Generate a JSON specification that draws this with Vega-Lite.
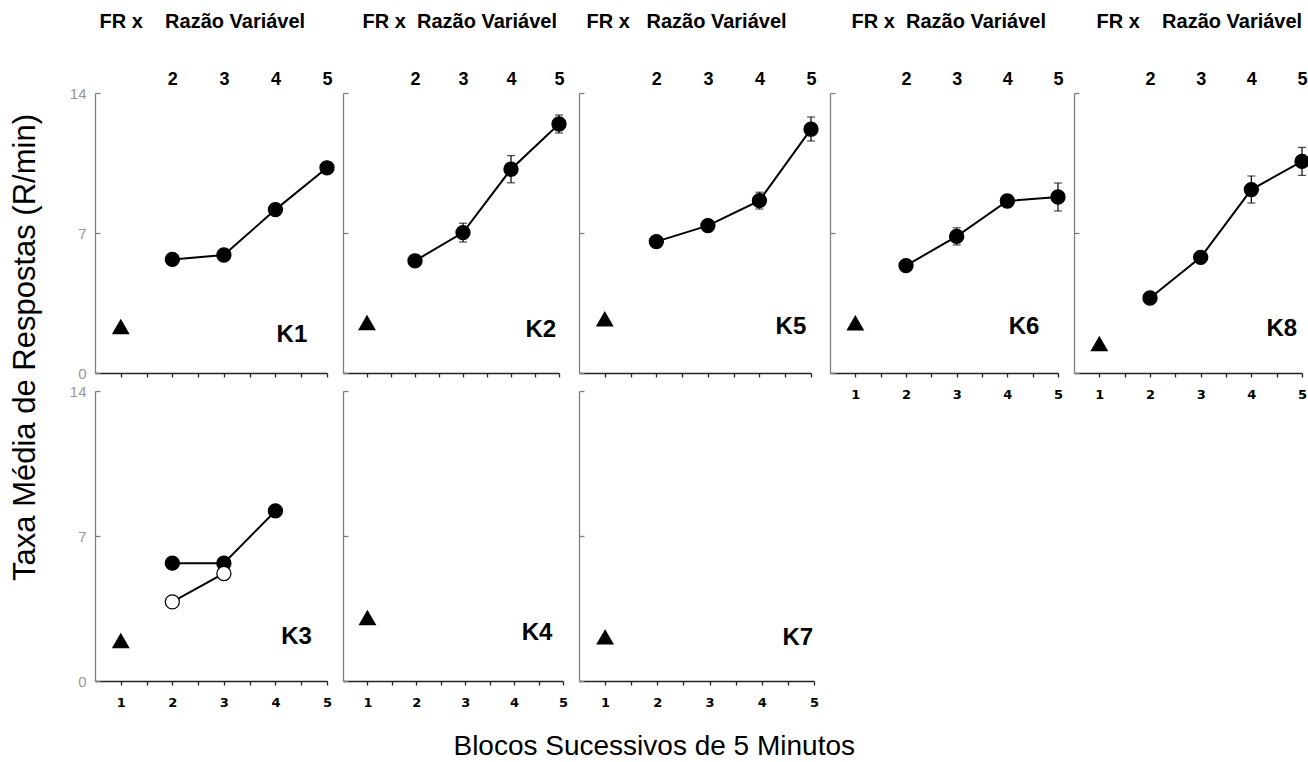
{
  "$schema": "https://vega.github.io/schema/vega-lite/v6.json",
  "padding": {"left": 8, "top": 11, "right": 0, "bottom": 5},
  "background": "white",
  "config": {"view": {"stroke": null}, "axis": {"grid": false}, "font": "Liberation Sans"},
  "datasets": {
    "pts": [
      {"panel": "K1", "series": "FR", "x": 1, "y": 2.33},
      {"panel": "K1", "series": "VR", "x": 2, "y": 5.68},
      {"panel": "K1", "series": "VR", "x": 3, "y": 5.9},
      {"panel": "K1", "series": "VR", "x": 4, "y": 8.17},
      {"panel": "K1", "series": "VR", "x": 5, "y": 10.26},
      {"panel": "K2", "series": "FR", "x": 1, "y": 2.52},
      {"panel": "K2", "series": "VR", "x": 2, "y": 5.61},
      {"panel": "K2", "series": "VR", "x": 3, "y": 7.02, "lo": 6.55, "hi": 7.49},
      {"panel": "K2", "series": "VR", "x": 4, "y": 10.19, "lo": 9.51, "hi": 10.87},
      {"panel": "K2", "series": "VR", "x": 5, "y": 12.45, "lo": 12.0, "hi": 12.9},
      {"panel": "K5", "series": "FR", "x": 1, "y": 2.71},
      {"panel": "K5", "series": "VR", "x": 2, "y": 6.57},
      {"panel": "K5", "series": "VR", "x": 3, "y": 7.37},
      {"panel": "K5", "series": "VR", "x": 4, "y": 8.62, "lo": 8.2, "hi": 9.04},
      {"panel": "K5", "series": "VR", "x": 5, "y": 12.19, "lo": 11.6, "hi": 12.8},
      {"panel": "K6", "series": "FR", "x": 1, "y": 2.51},
      {"panel": "K6", "series": "VR", "x": 2, "y": 5.37},
      {"panel": "K6", "series": "VR", "x": 3, "y": 6.83, "lo": 6.4, "hi": 7.26},
      {"panel": "K6", "series": "VR", "x": 4, "y": 8.6, "lo": 8.3, "hi": 8.9},
      {"panel": "K6", "series": "VR", "x": 5, "y": 8.8, "lo": 8.1, "hi": 9.5},
      {"panel": "K8", "series": "FR", "x": 1, "y": 1.47},
      {"panel": "K8", "series": "VR", "x": 2, "y": 3.75},
      {"panel": "K8", "series": "VR", "x": 3, "y": 5.78},
      {"panel": "K8", "series": "VR", "x": 4, "y": 9.17, "lo": 8.5, "hi": 9.85},
      {"panel": "K8", "series": "VR", "x": 5, "y": 10.58, "lo": 9.88, "hi": 11.28},
      {"panel": "K3", "series": "FR", "x": 1, "y": 1.95},
      {"panel": "K3", "series": "VR", "x": 2, "y": 5.69},
      {"panel": "K3", "series": "VR", "x": 3, "y": 5.69},
      {"panel": "K3", "series": "VR", "x": 4, "y": 8.21},
      {"panel": "K3", "series": "VR-b", "x": 2, "y": 3.82},
      {"panel": "K3", "series": "VR-b", "x": 3, "y": 5.19},
      {"panel": "K4", "series": "FR", "x": 1, "y": 3.07},
      {"panel": "K7", "series": "FR", "x": 1, "y": 2.13}
    ],
    "labels": [
      {"panel": "K1", "x": 4.32, "y": 1.9},
      {"panel": "K2", "x": 4.62, "y": 2.13},
      {"panel": "K5", "x": 4.61, "y": 2.3},
      {"panel": "K6", "x": 4.33, "y": 2.28},
      {"panel": "K8", "x": 4.6, "y": 2.22},
      {"panel": "K3", "x": 4.41, "y": 2.14},
      {"panel": "K4", "x": 4.47, "y": 2.3},
      {"panel": "K7", "x": 4.69, "y": 2.1}
    ]
  },
  "title": {"text": "Blocos Sucessivos de 5 Minutos", "orient": "bottom", "anchor": "middle", "dx": -6, "offset": 24, "fontSize": 28, "fontWeight": "normal", "font": "Liberation Sans", "color": "#000"},
  "columns": 5,
  "align": "each",
  "bounds": "flush",
  "spacing": {"row": 18, "column": 16},
  "concat": [
    {
      "width": 232, "height": 280,
      "data": {"name": "pts"},
      "transform": [{"filter": "datum.panel === 'K1'"}],
      "resolve": {"axis": {"x": "independent", "y": "independent"}},
      "layer": [
        {"transform": [{"filter": "isValid(datum.lo)"}],
         "mark": {"type": "errorbar", "color": "black", "rule": {"color": "black", "strokeWidth": 1.2}, "ticks": {"size": 8, "color": "black", "thickness": 1.2}},
         "encoding": {"x": {"field": "x", "type": "quantitative", "scale": {"domain": [0.5, 5], "nice": false, "zero": false}, "axis": null},
                      "y": {"field": "lo", "type": "quantitative", "scale": {"domain": [0, 14], "nice": false}, "axis": null},
                      "y2": {"field": "hi"}}},
        {"mark": {"type": "line", "color": "black", "strokeWidth": 2},
         "encoding": {"x": {"field": "x", "type": "quantitative", "axis": null}, "y": {"field": "y", "type": "quantitative", "axis": null}, "detail": {"field": "series"}}},
        {"transform": [{"filter": "datum.series === 'FR'"}],
         "mark": {"type": "point", "shape": "triangle-up", "filled": true, "color": "black", "opacity": 1, "size": 320},
         "encoding": {"x": {"field": "x", "type": "quantitative",
                            "axis": {"orient": "top", "values": [2, 3, 4, 5], "format": "d", "ticks": false, "domain": false, "labelFont": "Liberation Sans", "labelFontWeight": "bold", "labelFontSize": 18, "labelColor": "#000", "labelPadding": 5, "labelFlush": false,
                                     "title": "FR x\u00a0\u00a0\u00a0\u00a0Razão Variável", "titleFont": "Liberation Sans", "titleFontSize": 20, "titleFontWeight": "bold", "titleColor": "#000", "titleX": 4, "titleY": -72, "titleAlign": "left", "titleBaseline": "middle", "titleAngle": 0}},
                      "y": {"field": "y", "type": "quantitative", "axis": null}}},
        {"transform": [{"filter": "datum.series !== 'FR'"}],
         "mark": {"type": "point", "shape": "circle", "filled": true, "opacity": 1, "size": 200, "stroke": "black", "strokeWidth": 1.2},
         "encoding": {"x": {"field": "x", "type": "quantitative", "axis": null}, "y": {"field": "y", "type": "quantitative", "axis": null},
                      "fill": {"field": "series", "type": "nominal", "scale": {"domain": ["VR", "VR-b"], "range": ["black", "white"]}, "legend": null}}},
        {"data": {"name": "labels"},
         "transform": [{"filter": "datum.panel === 'K1'"}],
         "mark": {"type": "text", "font": "Liberation Sans", "fontSize": 24, "fontWeight": "bold", "color": "black"},
         "encoding": {"x": {"field": "x", "type": "quantitative",
                            "axis": {"orient": "bottom", "values": [1, 1.5, 2, 2.5, 3, 3.5, 4, 4.5, 5], "labels": false, "title": null, "domainColor": "#222", "domainWidth": 1.5, "tickColor": "#222", "tickSize": 4, "tickWidth": 1.3}},
                      "y": {"field": "y", "type": "quantitative",
                            "axis": {"values": [0, 7, 14], "domainColor": "#808080", "domainWidth": 1.3, "tickColor": "#808080", "tickSize": -5, "tickWidth": 1.3, "labelColor": "#999999", "labelFontSize": 15, "labelFont": "Liberation Sans", "labelPadding": 14,
                                     "title": "Taxa Média de Respostas (R/min)", "titleFont": "Liberation Sans", "titleFontSize": 31, "titleFontWeight": "normal", "titleColor": "#000", "titleX": -70, "titleY": 254, "titleAngle": 270, "titleAlign": "center", "titleBaseline": "middle"}},
                      "text": {"field": "panel"}}}
      ]
    },
    {
      "width": 216, "height": 280,
      "data": {"name": "pts"},
      "transform": [{"filter": "datum.panel === 'K2'"}],
      "resolve": {"axis": {"x": "independent", "y": "independent"}},
      "layer": [
        {"transform": [{"filter": "isValid(datum.lo)"}],
         "mark": {"type": "errorbar", "color": "black", "rule": {"color": "black", "strokeWidth": 1.2}, "ticks": {"size": 8, "color": "black", "thickness": 1.2}},
         "encoding": {"x": {"field": "x", "type": "quantitative", "scale": {"domain": [0.5, 5], "nice": false, "zero": false}, "axis": null},
                      "y": {"field": "lo", "type": "quantitative", "scale": {"domain": [0, 14], "nice": false}, "axis": null},
                      "y2": {"field": "hi"}}},
        {"mark": {"type": "line", "color": "black", "strokeWidth": 2},
         "encoding": {"x": {"field": "x", "type": "quantitative", "axis": null}, "y": {"field": "y", "type": "quantitative", "axis": null}, "detail": {"field": "series"}}},
        {"transform": [{"filter": "datum.series === 'FR'"}],
         "mark": {"type": "point", "shape": "triangle-up", "filled": true, "color": "black", "opacity": 1, "size": 320},
         "encoding": {"x": {"field": "x", "type": "quantitative",
                            "axis": {"orient": "top", "values": [2, 3, 4, 5], "format": "d", "ticks": false, "domain": false, "labelFont": "Liberation Sans", "labelFontWeight": "bold", "labelFontSize": 18, "labelColor": "#000", "labelPadding": 5, "labelFlush": false,
                                     "title": "FR x\u00a0\u00a0Razão Variável", "titleFont": "Liberation Sans", "titleFontSize": 20, "titleFontWeight": "bold", "titleColor": "#000", "titleX": 19, "titleY": -72, "titleAlign": "left", "titleBaseline": "middle", "titleAngle": 0}},
                      "y": {"field": "y", "type": "quantitative", "axis": null}}},
        {"transform": [{"filter": "datum.series !== 'FR'"}],
         "mark": {"type": "point", "shape": "circle", "filled": true, "opacity": 1, "size": 200, "stroke": "black", "strokeWidth": 1.2},
         "encoding": {"x": {"field": "x", "type": "quantitative", "axis": null}, "y": {"field": "y", "type": "quantitative", "axis": null},
                      "fill": {"field": "series", "type": "nominal", "scale": {"domain": ["VR", "VR-b"], "range": ["black", "white"]}, "legend": null}}},
        {"data": {"name": "labels"},
         "transform": [{"filter": "datum.panel === 'K2'"}],
         "mark": {"type": "text", "font": "Liberation Sans", "fontSize": 24, "fontWeight": "bold", "color": "black"},
         "encoding": {"x": {"field": "x", "type": "quantitative",
                            "axis": {"orient": "bottom", "values": [1, 1.5, 2, 2.5, 3, 3.5, 4, 4.5, 5], "labels": false, "title": null, "domainColor": "#222", "domainWidth": 1.5, "tickColor": "#222", "tickSize": 4, "tickWidth": 1.3}},
                      "y": {"field": "y", "type": "quantitative",
                            "axis": {"values": [0, 7, 14], "labels": false, "title": null, "domainColor": "#808080", "domainWidth": 1.3, "tickColor": "#808080", "tickSize": -5, "tickWidth": 1.3}},
                      "text": {"field": "panel"}}}
      ]
    },
    {
      "width": 232, "height": 280,
      "data": {"name": "pts"},
      "transform": [{"filter": "datum.panel === 'K5'"}],
      "resolve": {"axis": {"x": "independent", "y": "independent"}},
      "layer": [
        {"transform": [{"filter": "isValid(datum.lo)"}],
         "mark": {"type": "errorbar", "color": "black", "rule": {"color": "black", "strokeWidth": 1.2}, "ticks": {"size": 8, "color": "black", "thickness": 1.2}},
         "encoding": {"x": {"field": "x", "type": "quantitative", "scale": {"domain": [0.5, 5], "nice": false, "zero": false}, "axis": null},
                      "y": {"field": "lo", "type": "quantitative", "scale": {"domain": [0, 14], "nice": false}, "axis": null},
                      "y2": {"field": "hi"}}},
        {"mark": {"type": "line", "color": "black", "strokeWidth": 2},
         "encoding": {"x": {"field": "x", "type": "quantitative", "axis": null}, "y": {"field": "y", "type": "quantitative", "axis": null}, "detail": {"field": "series"}}},
        {"transform": [{"filter": "datum.series === 'FR'"}],
         "mark": {"type": "point", "shape": "triangle-up", "filled": true, "color": "black", "opacity": 1, "size": 320},
         "encoding": {"x": {"field": "x", "type": "quantitative",
                            "axis": {"orient": "top", "values": [2, 3, 4, 5], "format": "d", "ticks": false, "domain": false, "labelFont": "Liberation Sans", "labelFontWeight": "bold", "labelFontSize": 18, "labelColor": "#000", "labelPadding": 5, "labelFlush": false,
                                     "title": "FR x\u00a0\u00a0\u00a0Razão Variável", "titleFont": "Liberation Sans", "titleFontSize": 20, "titleFontWeight": "bold", "titleColor": "#000", "titleX": 7, "titleY": -72, "titleAlign": "left", "titleBaseline": "middle", "titleAngle": 0}},
                      "y": {"field": "y", "type": "quantitative", "axis": null}}},
        {"transform": [{"filter": "datum.series !== 'FR'"}],
         "mark": {"type": "point", "shape": "circle", "filled": true, "opacity": 1, "size": 200, "stroke": "black", "strokeWidth": 1.2},
         "encoding": {"x": {"field": "x", "type": "quantitative", "axis": null}, "y": {"field": "y", "type": "quantitative", "axis": null},
                      "fill": {"field": "series", "type": "nominal", "scale": {"domain": ["VR", "VR-b"], "range": ["black", "white"]}, "legend": null}}},
        {"data": {"name": "labels"},
         "transform": [{"filter": "datum.panel === 'K5'"}],
         "mark": {"type": "text", "font": "Liberation Sans", "fontSize": 24, "fontWeight": "bold", "color": "black"},
         "encoding": {"x": {"field": "x", "type": "quantitative",
                            "axis": {"orient": "bottom", "values": [1, 1.5, 2, 2.5, 3, 3.5, 4, 4.5, 5], "labels": false, "title": null, "domainColor": "#222", "domainWidth": 1.5, "tickColor": "#222", "tickSize": 4, "tickWidth": 1.3}},
                      "y": {"field": "y", "type": "quantitative",
                            "axis": {"values": [0, 7, 14], "labels": false, "title": null, "domainColor": "#808080", "domainWidth": 1.3, "tickColor": "#808080", "tickSize": -5, "tickWidth": 1.3}},
                      "text": {"field": "panel"}}}
      ]
    },
    {
      "width": 228, "height": 280,
      "data": {"name": "pts"},
      "transform": [{"filter": "datum.panel === 'K6'"}],
      "resolve": {"axis": {"x": "independent", "y": "independent"}},
      "layer": [
        {"transform": [{"filter": "isValid(datum.lo)"}],
         "mark": {"type": "errorbar", "color": "black", "rule": {"color": "black", "strokeWidth": 1.2}, "ticks": {"size": 8, "color": "black", "thickness": 1.2}},
         "encoding": {"x": {"field": "x", "type": "quantitative", "scale": {"domain": [0.5, 5], "nice": false, "zero": false}, "axis": null},
                      "y": {"field": "lo", "type": "quantitative", "scale": {"domain": [0, 14], "nice": false}, "axis": null},
                      "y2": {"field": "hi"}}},
        {"mark": {"type": "line", "color": "black", "strokeWidth": 2},
         "encoding": {"x": {"field": "x", "type": "quantitative", "axis": null}, "y": {"field": "y", "type": "quantitative", "axis": null}, "detail": {"field": "series"}}},
        {"transform": [{"filter": "datum.series === 'FR'"}],
         "mark": {"type": "point", "shape": "triangle-up", "filled": true, "color": "black", "opacity": 1, "size": 320},
         "encoding": {"x": {"field": "x", "type": "quantitative",
                            "axis": {"orient": "top", "values": [2, 3, 4, 5], "format": "d", "ticks": false, "domain": false, "labelFont": "Liberation Sans", "labelFontWeight": "bold", "labelFontSize": 18, "labelColor": "#000", "labelPadding": 5, "labelFlush": false,
                                     "title": "FR x\u00a0\u00a0Razão Variável", "titleFont": "Liberation Sans", "titleFontSize": 20, "titleFontWeight": "bold", "titleColor": "#000", "titleX": 21, "titleY": -72, "titleAlign": "left", "titleBaseline": "middle", "titleAngle": 0}},
                      "y": {"field": "y", "type": "quantitative", "axis": null}}},
        {"transform": [{"filter": "datum.series !== 'FR'"}],
         "mark": {"type": "point", "shape": "circle", "filled": true, "opacity": 1, "size": 200, "stroke": "black", "strokeWidth": 1.2},
         "encoding": {"x": {"field": "x", "type": "quantitative", "axis": null}, "y": {"field": "y", "type": "quantitative", "axis": null},
                      "fill": {"field": "series", "type": "nominal", "scale": {"domain": ["VR", "VR-b"], "range": ["black", "white"]}, "legend": null}}},
        {"data": {"name": "labels"},
         "transform": [{"filter": "datum.panel === 'K6'"}],
         "mark": {"type": "text", "font": "Liberation Sans", "fontSize": 24, "fontWeight": "bold", "color": "black"},
         "encoding": {"x": {"field": "x", "type": "quantitative",
                            "axis": {"orient": "bottom", "values": [1, 1.5, 2, 2.5, 3, 3.5, 4, 4.5, 5], "labelExpr": "datum.value % 1 === 0 ? format(datum.value, 'd') : ''", "labelOverlap": false, "labelFlush": false, "labelFont": "DejaVu Sans", "labelFontWeight": "bold", "labelFontSize": 13, "labelColor": "#000", "labelPadding": 11, "title": null, "domainColor": "#222", "domainWidth": 1.5, "tickColor": "#222", "tickSize": 4, "tickWidth": 1.3}},
                      "y": {"field": "y", "type": "quantitative",
                            "axis": {"values": [0, 7, 14], "labels": false, "title": null, "domainColor": "#808080", "domainWidth": 1.3, "tickColor": "#808080", "tickSize": -5, "tickWidth": 1.3}},
                      "text": {"field": "panel"}}}
      ]
    },
    {
      "width": 228, "height": 280,
      "data": {"name": "pts"},
      "transform": [{"filter": "datum.panel === 'K8'"}],
      "resolve": {"axis": {"x": "independent", "y": "independent"}},
      "layer": [
        {"transform": [{"filter": "isValid(datum.lo)"}],
         "mark": {"type": "errorbar", "color": "black", "rule": {"color": "black", "strokeWidth": 1.2}, "ticks": {"size": 8, "color": "black", "thickness": 1.2}},
         "encoding": {"x": {"field": "x", "type": "quantitative", "scale": {"domain": [0.5, 5], "nice": false, "zero": false}, "axis": null},
                      "y": {"field": "lo", "type": "quantitative", "scale": {"domain": [0, 14], "nice": false}, "axis": null},
                      "y2": {"field": "hi"}}},
        {"mark": {"type": "line", "color": "black", "strokeWidth": 2},
         "encoding": {"x": {"field": "x", "type": "quantitative", "axis": null}, "y": {"field": "y", "type": "quantitative", "axis": null}, "detail": {"field": "series"}}},
        {"transform": [{"filter": "datum.series === 'FR'"}],
         "mark": {"type": "point", "shape": "triangle-up", "filled": true, "color": "black", "opacity": 1, "size": 320},
         "encoding": {"x": {"field": "x", "type": "quantitative",
                            "axis": {"orient": "top", "values": [2, 3, 4, 5], "format": "d", "ticks": false, "domain": false, "labelFont": "Liberation Sans", "labelFontWeight": "bold", "labelFontSize": 18, "labelColor": "#000", "labelPadding": 5, "labelFlush": false,
                                     "title": "FR x\u00a0\u00a0\u00a0\u00a0Razão Variável", "titleFont": "Liberation Sans", "titleFontSize": 20, "titleFontWeight": "bold", "titleColor": "#000", "titleX": 22, "titleY": -72, "titleAlign": "left", "titleBaseline": "middle", "titleAngle": 0}},
                      "y": {"field": "y", "type": "quantitative", "axis": null}}},
        {"transform": [{"filter": "datum.series !== 'FR'"}],
         "mark": {"type": "point", "shape": "circle", "filled": true, "opacity": 1, "size": 200, "stroke": "black", "strokeWidth": 1.2},
         "encoding": {"x": {"field": "x", "type": "quantitative", "axis": null}, "y": {"field": "y", "type": "quantitative", "axis": null},
                      "fill": {"field": "series", "type": "nominal", "scale": {"domain": ["VR", "VR-b"], "range": ["black", "white"]}, "legend": null}}},
        {"data": {"name": "labels"},
         "transform": [{"filter": "datum.panel === 'K8'"}],
         "mark": {"type": "text", "font": "Liberation Sans", "fontSize": 24, "fontWeight": "bold", "color": "black"},
         "encoding": {"x": {"field": "x", "type": "quantitative",
                            "axis": {"orient": "bottom", "values": [1, 1.5, 2, 2.5, 3, 3.5, 4, 4.5, 5], "labelExpr": "datum.value % 1 === 0 ? format(datum.value, 'd') : ''", "labelOverlap": false, "labelFlush": false, "labelFont": "DejaVu Sans", "labelFontWeight": "bold", "labelFontSize": 13, "labelColor": "#000", "labelPadding": 11, "title": null, "domainColor": "#222", "domainWidth": 1.5, "tickColor": "#222", "tickSize": 4, "tickWidth": 1.3}},
                      "y": {"field": "y", "type": "quantitative",
                            "axis": {"values": [0, 7, 14], "labels": false, "title": null, "domainColor": "#808080", "domainWidth": 1.3, "tickColor": "#808080", "tickSize": -5, "tickWidth": 1.3}},
                      "text": {"field": "panel"}}}
      ]
    },
    {
      "width": 232, "height": 290,
      "data": {"name": "pts"},
      "transform": [{"filter": "datum.panel === 'K3'"}],
      "resolve": {"axis": {"x": "independent", "y": "independent"}},
      "layer": [
        {"mark": {"type": "line", "color": "black", "strokeWidth": 2},
         "encoding": {"x": {"field": "x", "type": "quantitative", "scale": {"domain": [0.5, 5], "nice": false, "zero": false}, "axis": null},
                      "y": {"field": "y", "type": "quantitative", "scale": {"domain": [0, 14], "nice": false}, "axis": null}, "detail": {"field": "series"}}},
        {"transform": [{"filter": "datum.series === 'FR'"}],
         "mark": {"type": "point", "shape": "triangle-up", "filled": true, "color": "black", "opacity": 1, "size": 320},
         "encoding": {"x": {"field": "x", "type": "quantitative", "axis": null}, "y": {"field": "y", "type": "quantitative", "axis": null}}},
        {"transform": [{"filter": "datum.series !== 'FR'"}],
         "mark": {"type": "point", "shape": "circle", "filled": true, "opacity": 1, "size": 200, "stroke": "black", "strokeWidth": 1.2},
         "encoding": {"x": {"field": "x", "type": "quantitative", "axis": null}, "y": {"field": "y", "type": "quantitative", "axis": null},
                      "fill": {"field": "series", "type": "nominal", "scale": {"domain": ["VR", "VR-b"], "range": ["black", "white"]}, "legend": null}}},
        {"data": {"name": "labels"},
         "transform": [{"filter": "datum.panel === 'K3'"}],
         "mark": {"type": "text", "font": "Liberation Sans", "fontSize": 24, "fontWeight": "bold", "color": "black"},
         "encoding": {"x": {"field": "x", "type": "quantitative",
                            "axis": {"orient": "bottom", "values": [1, 1.5, 2, 2.5, 3, 3.5, 4, 4.5, 5], "labelExpr": "datum.value % 1 === 0 ? format(datum.value, 'd') : ''", "labelOverlap": false, "labelFlush": false, "labelFont": "DejaVu Sans", "labelFontWeight": "bold", "labelFontSize": 13, "labelColor": "#000", "labelPadding": 11, "title": null, "domainColor": "#222", "domainWidth": 1.5, "tickColor": "#222", "tickSize": 4, "tickWidth": 1.3}},
                      "y": {"field": "y", "type": "quantitative",
                            "axis": {"values": [0, 7, 14], "title": null, "domainColor": "#808080", "domainWidth": 1.3, "tickColor": "#808080", "tickSize": -5, "tickWidth": 1.3, "labelColor": "#999999", "labelFontSize": 15, "labelFont": "Liberation Sans", "labelPadding": 14}},
                      "text": {"field": "panel"}}}
      ]
    },
    {
      "width": 220, "height": 290,
      "data": {"name": "pts"},
      "transform": [{"filter": "datum.panel === 'K4'"}],
      "resolve": {"axis": {"x": "independent", "y": "independent"}},
      "layer": [
        {"transform": [{"filter": "datum.series === 'FR'"}],
         "mark": {"type": "point", "shape": "triangle-up", "filled": true, "color": "black", "opacity": 1, "size": 320},
         "encoding": {"x": {"field": "x", "type": "quantitative", "scale": {"domain": [0.5, 5], "nice": false, "zero": false}, "axis": null},
                      "y": {"field": "y", "type": "quantitative", "scale": {"domain": [0, 14], "nice": false}, "axis": null}}},
        {"data": {"name": "labels"},
         "transform": [{"filter": "datum.panel === 'K4'"}],
         "mark": {"type": "text", "font": "Liberation Sans", "fontSize": 24, "fontWeight": "bold", "color": "black"},
         "encoding": {"x": {"field": "x", "type": "quantitative",
                            "axis": {"orient": "bottom", "values": [1, 1.5, 2, 2.5, 3, 3.5, 4, 4.5, 5], "labelExpr": "datum.value % 1 === 0 ? format(datum.value, 'd') : ''", "labelOverlap": false, "labelFlush": false, "labelFont": "DejaVu Sans", "labelFontWeight": "bold", "labelFontSize": 13, "labelColor": "#000", "labelPadding": 11, "title": null, "domainColor": "#222", "domainWidth": 1.5, "tickColor": "#222", "tickSize": 4, "tickWidth": 1.3}},
                      "y": {"field": "y", "type": "quantitative",
                            "axis": {"values": [0, 7, 14], "labels": false, "title": null, "domainColor": "#808080", "domainWidth": 1.3, "tickColor": "#808080", "tickSize": -5, "tickWidth": 1.3}},
                      "text": {"field": "panel"}}}
      ]
    },
    {
      "width": 235, "height": 290,
      "data": {"name": "pts"},
      "transform": [{"filter": "datum.panel === 'K7'"}],
      "resolve": {"axis": {"x": "independent", "y": "independent"}},
      "layer": [
        {"transform": [{"filter": "datum.series === 'FR'"}],
         "mark": {"type": "point", "shape": "triangle-up", "filled": true, "color": "black", "opacity": 1, "size": 320},
         "encoding": {"x": {"field": "x", "type": "quantitative", "scale": {"domain": [0.5, 5], "nice": false, "zero": false}, "axis": null},
                      "y": {"field": "y", "type": "quantitative", "scale": {"domain": [0, 14], "nice": false}, "axis": null}}},
        {"data": {"name": "labels"},
         "transform": [{"filter": "datum.panel === 'K7'"}],
         "mark": {"type": "text", "font": "Liberation Sans", "fontSize": 24, "fontWeight": "bold", "color": "black"},
         "encoding": {"x": {"field": "x", "type": "quantitative",
                            "axis": {"orient": "bottom", "values": [1, 1.5, 2, 2.5, 3, 3.5, 4, 4.5, 5], "labelExpr": "datum.value % 1 === 0 ? format(datum.value, 'd') : ''", "labelOverlap": false, "labelFlush": false, "labelFont": "DejaVu Sans", "labelFontWeight": "bold", "labelFontSize": 13, "labelColor": "#000", "labelPadding": 11, "title": null, "domainColor": "#222", "domainWidth": 1.5, "tickColor": "#222", "tickSize": 4, "tickWidth": 1.3}},
                      "y": {"field": "y", "type": "quantitative",
                            "axis": {"values": [0, 7, 14], "labels": false, "title": null, "domainColor": "#808080", "domainWidth": 1.3, "tickColor": "#808080", "tickSize": -5, "tickWidth": 1.3}},
                      "text": {"field": "panel"}}}
      ]
    }
  ]
}
